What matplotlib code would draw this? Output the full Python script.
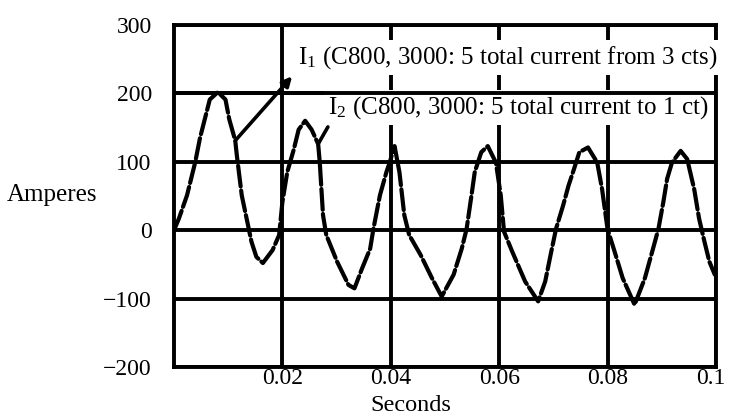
import matplotlib
matplotlib.use('Agg')
import matplotlib.pyplot as plt
from matplotlib.transforms import ScaledTranslation

plt.rcParams['font.family'] = ['Liberation Serif', 'DejaVu Serif']
plt.rcParams['mathtext.fontset'] = 'custom'
plt.rcParams['mathtext.rm'] = 'Liberation Serif'
plt.rcParams['mathtext.it'] = 'Liberation Serif:italic'
plt.rcParams['axes.unicode_minus'] = True

# ---- data ----
time_s = [0.0000, 0.0009, 0.0024, 0.0039, 0.0048, 0.0066, 0.0081, 0.0095, 0.0102,
          0.0113, 0.0116, 0.0125, 0.0134, 0.0143, 0.0152, 0.0164, 0.0182, 0.0194,
          0.0200, 0.0209, 0.0221, 0.0230, 0.0242, 0.0254, 0.0266, 0.0269, 0.0275,
          0.0281, 0.0301, 0.0322, 0.0333, 0.0347, 0.0362, 0.0368, 0.0380, 0.0392,
          0.0398, 0.0407, 0.0416, 0.0425, 0.0434, 0.0455, 0.0476, 0.0494, 0.0516,
          0.0531, 0.0540, 0.0549, 0.0555, 0.0567, 0.0579, 0.0594, 0.0603, 0.0609,
          0.0624, 0.0648, 0.0672, 0.0685, 0.0695, 0.0705, 0.0718, 0.0728, 0.0738,
          0.0748, 0.0764, 0.0781, 0.0790, 0.0800, 0.0813, 0.0828, 0.0850, 0.0869,
          0.0884, 0.0894, 0.0903, 0.0910, 0.0919, 0.0935, 0.0947, 0.0960, 0.0969,
          0.0979, 0.0988, 0.0998]
current_a = [0, 17, 51, 99, 135, 191, 202, 191, 162,
             131, 109, 51, 17, -17, -39, -48, -29, -7,
             41, 85, 118, 147, 160, 147, 126, 99, 22,
             -7, -46, -80, -85, -56, -27, 2, 51, 85,
             99, 123, 85, 22, -7, -36, -70, -97, -65,
             -27, 2, 51, 85, 114, 123, 99, 51, -2,
             -31, -75, -104, -75, -36, 2, 36, 65, 89,
             114, 121, 99, 60, 2, -31, -70, -109, -70,
             -27, 2, 41, 75, 99, 116, 104, 60, 17,
             -17, -46, -65]

x_ticks = [0.02, 0.04, 0.06, 0.08, 0.1]
x_tick_labels = ['0.02', '0.04', '0.06', '0.08', '0.1']
y_ticks = [-200, -100, 0, 100, 200, 300]
y_tick_labels = ['\u2212200', '\u2212100', '0', '100', '200', '300']

label_i1 = r'I$_1$ (C800, 3000: 5 total current from 3 cts)'
label_i2 = r'I$_2$ (C800, 3000: 5 total current to 1 ct)'
label_i1_pos = (0.1002, 244)
label_i2_pos = (0.0987, 171)
pointer_i1 = [(0.0113, 131), (0.0218, 225)]
pointer_i2 = [(0.0266, 126), (0.0284, 151)]

# ---- figure ----
fig = plt.figure(figsize=(7.29, 4.19), dpi=100)
ax = fig.add_axes([0.2387, 0.1241, 0.982 - 0.2387, 0.9403 - 0.1241])
ax.set_xlim(0, 0.1)
ax.set_ylim(-200, 300)

ax.set_xticks(x_ticks)
ax.set_xticklabels(x_tick_labels, fontsize=17)
ax.set_yticks(y_ticks)
ax.set_yticklabels(y_tick_labels, fontsize=17)
ax.tick_params(axis='both', length=0)
ax.tick_params(axis='y', pad=16)
ax.tick_params(axis='x', pad=1)
last = ax.get_xticklabels()[-1]
last.set_transform(last.get_transform() + ScaledTranslation(-5 / 100, 0, fig.dpi_scale_trans))

ax.grid(True, color='black', linewidth=2.8, zorder=1)
ax.set_axisbelow(True)
for sp in ax.spines.values():
    sp.set_linewidth(2.8)
    sp.set_zorder(2)

ax.plot(time_s, current_a, color='black', linewidth=3.0, dashes=(5, 1.0),
        dash_capstyle='round', zorder=4)

# labels with white boxes (hide grid behind)
ax.text(label_i1_pos[0], label_i1_pos[1], label_i1, fontsize=18, ha='right',
        va='baseline', zorder=3,
        bbox=dict(facecolor='white', edgecolor='none', pad=3))
ax.text(label_i2_pos[0], label_i2_pos[1], label_i2, fontsize=18, ha='right',
        va='baseline', zorder=3,
        bbox=dict(facecolor='white', edgecolor='none', pad=3))
# the 200 grid line stays visible above the second label box
ax.axhline(200, color='black', linewidth=2.8, zorder=3.5)

ax.annotate('', xy=pointer_i1[1], xytext=pointer_i1[0],
            arrowprops=dict(arrowstyle='-|>', color='black', lw=2.6,
                            mutation_scale=14, shrinkA=0, shrinkB=0), zorder=5)
ax.annotate('', xy=pointer_i2[1], xytext=pointer_i2[0],
            arrowprops=dict(arrowstyle='-', color='black', lw=2.6,
                            shrinkA=0, shrinkB=0), zorder=5)

fig.text(52 / 729, 1 - 195 / 419, 'Amperes', fontsize=18, ha='center', va='center')
fig.text(411 / 729, 1 - 405 / 419, 'Seconds', fontsize=17.5, ha='center', va='center')

fig.savefig('out.png', dpi=100)
